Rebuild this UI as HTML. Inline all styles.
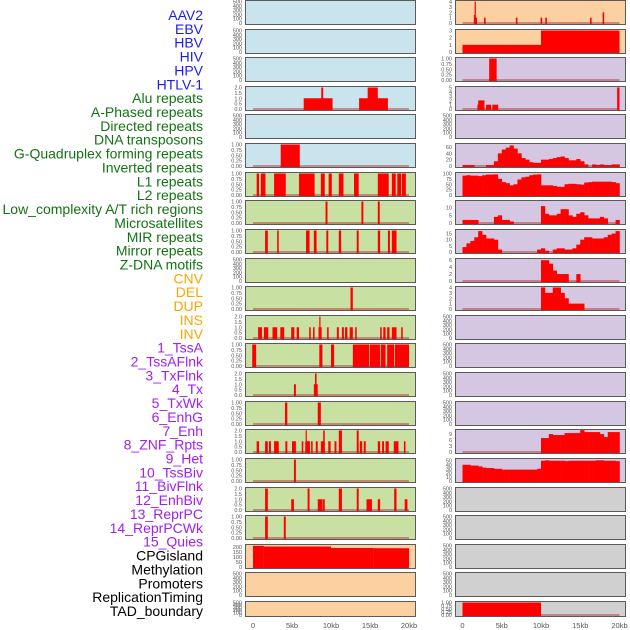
<!DOCTYPE html>
<html><head><meta charset="utf-8">
<style>
html,body{margin:0;padding:0;background:#fff;width:630px;height:630px;overflow:hidden}
svg{display:block}
.lab{font-family:"Liberation Sans",sans-serif;font-size:14px}
.tk{font-family:"Liberation Sans",sans-serif;font-size:5.5px;fill:#555}
.ax{font-family:"Liberation Sans",sans-serif;font-size:7.5px;fill:#555}
</style></head>
<body>
<svg id="chart" width="630" height="630" viewBox="0 0 630 630" xmlns="http://www.w3.org/2000/svg"></svg>
<script>
const labels = ["AAV2","EBV","HBV","HIV","HPV","HTLV-1","Alu repeats","A-Phased repeats","Directed repeats","DNA transposons","G-Quadruplex forming repeats","Inverted repeats","L1 repeats","L2 repeats","Low_complexity A/T rich regions","Microsatellites","MIR repeats","Mirror repeats","Z-DNA motifs","CNV","DEL","DUP","INS","INV","1_TssA","2_TssAFlnk","3_TxFlnk","4_Tx","5_TxWk","6_EnhG","7_Enh","8_ZNF_Rpts","9_Het","10_TssBiv","11_BivFlnk","12_EnhBiv","13_ReprPC","14_ReprPCWk","15_Quies","CPGisland","Methylation","Promoters","ReplicationTiming","TAD_boundary"];
const labelGroups = ["v","v","v","v","v","v","r","r","r","r","r","r","r","r","r","r","r","r","r","s","s","s","s","s","c","c","c","c","c","c","c","c","c","c","c","c","c","c","c","k","k","k","k","k"];
const xTickValues = [0,5,10,15,20];
const xTickLabels = ["0","5kb","10kb","15kb","20kb"];
const leftBg = ["b","b","b","b","b","b","g","g","g","g","g","g","g","g","g","g","g","g","g","o","o","o"];
const rightBg = ["o","o","p","p","p","p","p","p","p","p","p","p","p","p","p","p","p","g2","g2","g2","g2","g2"];
const leftTicks = [[0,100,200,300,400,500],[0,100,200,300,400,500],[0,100,200,300,400,500],[0,0.5,1,1.5,2],[0,100,200,300,400,500],[0,0.25,0.5,0.75,1],[0,0.25,0.5,0.75,1],[0,0.25,0.5,0.75,1],[0,0.25,0.5,0.75,1],[0,100,200,300,400,500],[0,0.25,0.5,0.75,1],[0,0.5,1,1.5,2],[0,0.25,0.5,0.75,1],[0,0.5,1,1.5,2],[0,0.25,0.5,0.75,1],[0,0.5,1,1.5,2],[0,0.25,0.5,0.75,1],[0,0.5,1,1.5,2],[0,0.25,0.5,0.75,1],[0,50,100,150,200],[0,100,200,300,400,500],[0,100,200,300,400,500]];
const rightTicks = [[0,1,2,3,4],[0,1,2,3],[0,0.25,0.5,0.75,1],[0,1,2,3,4,5],[0,100,200,300,400,500],[0,20,40,60],[0,25,50,75,100],[0,5,10],[0,5,10,15],[0,2,4,6],[0,1,2,3,4],[0,100,200,300,400,500],[0,100,200,300,400,500],[0,100,200,300,400,500],[0,100,200,300,400,500],[0,3,6,9],[0,10,20,30,40,50],[0,100,200,300,400,500],[0,100,200,300,400,500],[0,100,200,300,400,500],[0,100,200,300,400,500],[0,0.25,0.5,0.75,1]];
const leftYMax = [500,500,500,2,500,1,1,1,1,500,1,2,1,2,1,2,1,2,1,215,500,500];
const rightYMax = [4,3,1,5,500,68,100,14,17.5,6.2,4,500,500,500,500,10.8,53,500,500,500,500,1];
// intervals [startKb, endKb, value]
const leftSeries = [
 [],[],[],
 [[6.5,10.2,1],[8.75,9.0,2],[13.6,17.3,1],[14.7,16.0,2]],
 [],
 [[3.55,6.0,1]],
 [[0.47,0.77,1],[1.0,1.6,1],[2.7,4.2,1],[5.9,7.9,1],[8.7,9.2,1],[9.7,10.1,1],[11.0,11.6,1],[12.95,13.55,1],[16.0,17.4,1],[17.8,18.3,1],[18.5,19.0,1],[19.1,19.6,1]],
 [[9.3,9.55,1],[13.9,14.15,1],[16.0,16.25,1]],
 [[1.55,1.9,1],[3.1,3.3,1],[6.8,7.25,1],[7.8,8.15,1],[9.4,9.65,1],[11.0,11.3,1],[13.3,13.55,1],[16.0,16.3,1],[17.3,17.55,1],[17.8,18.4,1]],
 [],
 [[12.5,12.8,1]],
 [[0.65,1.15,1],[1.4,1.95,1],[2.5,3.1,1],[3.5,4.0,1],[4.9,5.3,1],[5.6,5.9,1],[7.2,7.4,1],[7.7,7.9,1],[8.4,8.8,1],[8.5,8.65,2],[9.5,9.7,1],[10.75,11.0,1],[11.4,11.65,1],[11.8,12.1,1],[12.4,12.8,1],[13.1,13.3,1],[16.3,16.5,1],[16.7,17.0,1],[17.2,17.5,1],[17.8,18.4,1],[19.0,19.2,1]],
 [[-0.1,0.4,1],[8.5,8.9,1],[10.0,10.4,1],[12.8,14.9,1],[15.0,16.3,1],[16.4,17.0,1],[17.2,18.1,1],[18.2,20.0,1]],
 [[5.25,5.5,1],[7.8,8.3,1],[7.95,8.15,2]],
 [[4.1,4.4,1],[8.3,8.7,1]],
 [[0.47,0.77,1],[1.55,1.9,1],[2.05,2.3,1],[2.7,3.3,1],[4.15,4.4,1],[5.0,5.5,1],[6.25,6.45,1],[6.7,7.3,1],[6.75,6.9,2],[7.45,7.65,1],[8.05,8.3,1],[8.7,9.2,1],[9.0,9.2,2],[9.65,9.95,1],[10.45,10.7,1],[11.0,11.4,2],[13.3,13.55,2],[13.7,14.0,1],[14.2,14.45,1],[16.0,16.3,1],[16.55,16.8,1],[17.0,17.4,1],[18.05,18.65,1],[19.35,19.55,1]],
 [[5.25,5.5,1]],
 [[1.55,1.9,2],[4.9,5.25,1],[7.0,7.25,2],[8.3,8.85,1],[8.9,9.2,1],[11.0,11.4,2],[13.3,13.55,2],[14.55,15.25,1],[16.0,16.3,1],[18.1,18.4,2],[19.45,19.8,1]],
 [[1.55,1.9,1],[3.95,4.2,1]],
 [[0,1.4,212],[1.4,10.0,205],[10.0,15.5,190],[15.5,20.0,188]],
 [],[]
];
const rightSeries = [
 [[1.45,1.6,1.5],[1.55,1.65,4],[1.65,1.85,1],[2.75,2.95,1],[6.8,7.0,1],[9.95,10.15,1],[10.55,10.75,1],[16.25,16.45,1],[17.85,18.05,2]],
 [[0,10.0,1],[10.0,20.0,3]],
 [[3.4,4.35,1]],
 [[1.9,2.0,1],[2.0,2.8,2],[3.0,3.65,1],[3.8,4.55,1],[19.7,20.0,5]],
 [],[],[],[],[],[],[],[],[],[],[],[],[],[],[],[],[],
 [[0,10.0,1]]
];
// binned profiles (0.5 kb bins over 0-20 kb)
const rightBins5 = [3,3,3,0,0,0,3,3,15,40,52,58,65,55,40,25,20,12,10,10,20,20,22,25,28,30,25,18,18,22,15,5,0,5,3,5,3,3,5,5];
const rightBins6 = [90,92,90,90,88,92,95,95,96,75,60,55,45,50,72,82,85,92,95,96,45,45,45,42,38,38,50,52,52,50,48,58,60,62,62,62,62,62,60,55];
const rightBins7 = [2,2,2,2,0,0,0,0,4,5,2,2,1,0,0,0,0,0,0,0,11,6,5,5,6,9,9,5,4,6,7,5,3,3,3,4,3,0,0,2];
const rightBins8 = [4,7,9,12,17,14,11,11,10,2,0,0,0,0,0,0,0,0,0,2,3,1,0,2,3,3,2,2,3,6,10,12,12,11,11,11,12,14,15,17];
const rightBins9 = [0,0,0,0,0,0,0,0,0,0,0,0,0,0,0,0,0,0,0,0,6,6,5,3,2,2,2,0,0,2,0,0,0,0,0,0,0,0,0,0];
const rightBins10 = [0,0,0,0,0,0,0,0,0,0,0,0,0,0,0,0,0,0,0,0,4,3,3,4,4,3,2,1,1,1,1,0,0,0,0,0,0,0,0,0];
const rightBins15 = [0,0,0,0,0,0,0,0,0,0,0,0,0,0,0,0,0,0,0,0,7,7,9,8.5,8.5,8.5,9.5,9.5,9.5,9.5,11,10,10,10,10,9,7.5,10,10,10];
const rightBins16 = [40,40,38,38,36,33,32,32,30,30,28,28,28,28,28,28,28,28,28,30,50,51,50,50,50,50,49,50,50,50,50,50,50,50,51,51,50,50,50,49];

const NS = "http://www.w3.org/2000/svg";
const svg = document.getElementById("chart");
const bgColors = {b:"#c9e4ec",g:"#c8e0a2",o:"#fdd0a2",p:"#d5c6e2",g2:"#d0d0d0"};
const labColors = {v:"#1c1cf0",r:"#137313",s:"#ffa500",c:"#a020f0",k:"#000000"};
const BIN = 0.5;
function xL(kb){return 253 + kb*7.8;}
function xR(kb){return 462.5 + kb*7.85;}
function rowTop(i){return Math.round(i*28.62);}
function rowH(i){return i===21?16:25;}
function yScale(i,ymax){const t=rowTop(i), h=rowH(i); return v => (t+h-2) - (v/ymax)*(h-3.5);}
function el(tag, attrs){const e=document.createElementNS(NS,tag); for(const k in attrs) e.setAttribute(k,attrs[k]); return e;}
function fmt(ticks,v){
  const step = ticks.length>1 ? ticks[1]-ticks[0] : 1;
  if(step===0.25) return v.toFixed(2);
  if(step===0.5) return v.toFixed(1);
  return String(v);
}

// labels
labels.forEach((t,i)=>{
  const tx = el("text",{x:203,y:15+i*13.86+5,"text-anchor":"end",class:"lab",fill:labColors[labelGroups[i]]});
  
  
  tx.textContent = t;
  svg.appendChild(tx);
});

function drawPanel(side, i, bg, ticks, ymax, intervals, bins){
  const xf = side==="left" ? xL : xR;
  const x0 = side==="left" ? 245 : 455, x1 = side==="left" ? 416 : 626;
  const t = rowTop(i), h = rowH(i);
  const y = yScale(i, ymax);
  const g = el("g",{});
  
  
  const r = el("rect",{x:x0+0.5,y:t+0.5,width:x1-x0-1,height:h-1,fill:bgColors[bg],stroke:"#5a5a5a","stroke-width":1});
  
  
  g.appendChild(r);
  ticks.forEach(v=>{
    const tk = el("text",{x:x0-3,y:y(v)+2,"text-anchor":"end",class:"tk"});
    
    
    tk.textContent = fmt(ticks,v);
    g.appendChild(tk);
  });
  const hasData = intervals.length>0 || bins;
  if(hasData){
    const bl = el("line",{x1:xf(0),x2:xf(20),y1:y(0),y2:y(0),stroke:"#b84040","stroke-width":1.5,opacity:0.7});
    
    
    g.appendChild(bl);
  }
  intervals.forEach(f=>{
    const a = xf(f[0]), b = xf(f[1]);
    const top = Math.max(y(f[2]), t+1);
    const br = el("rect",{x:a,y:top,width:Math.max(b-a,1.2),height:y(0)-top+1,fill:"#ff0000"});
    
    
    g.appendChild(br);
  });
  if(bins){
    bins.forEach((v,k)=>{
      if(v<=0) return;
      const a = xf(k*BIN), b = xf((k+1)*BIN);
      const top = Math.max(y(v), t+1);
      const br = el("rect",{x:a,y:top,width:b-a+0.3,height:y(0)-top+1,fill:"#ff0000"});
      
      
      g.appendChild(br);
    });
  }
  svg.appendChild(g);
}

const binMap = {5:rightBins5,6:rightBins6,7:rightBins7,8:rightBins8,9:rightBins9,10:rightBins10,15:rightBins15,16:rightBins16};
for(let i=0;i<22;i++){
  drawPanel("left", i, leftBg[i], leftTicks[i], leftYMax[i], leftSeries[i], null);
  drawPanel("right", i, rightBg[i], rightTicks[i], rightYMax[i], rightSeries[i], binMap[i]||null);
}
// x axes
[["left",xL],["right",xR]].forEach(([s,xf])=>{
  xTickValues.forEach((v,k)=>{
    const tx = el("text",{x:xf(v),y:628,"text-anchor":"middle",class:"ax"});
    
    
    tx.textContent = xTickLabels[k];
    svg.appendChild(tx);
  });
});
</script>
</body></html>
